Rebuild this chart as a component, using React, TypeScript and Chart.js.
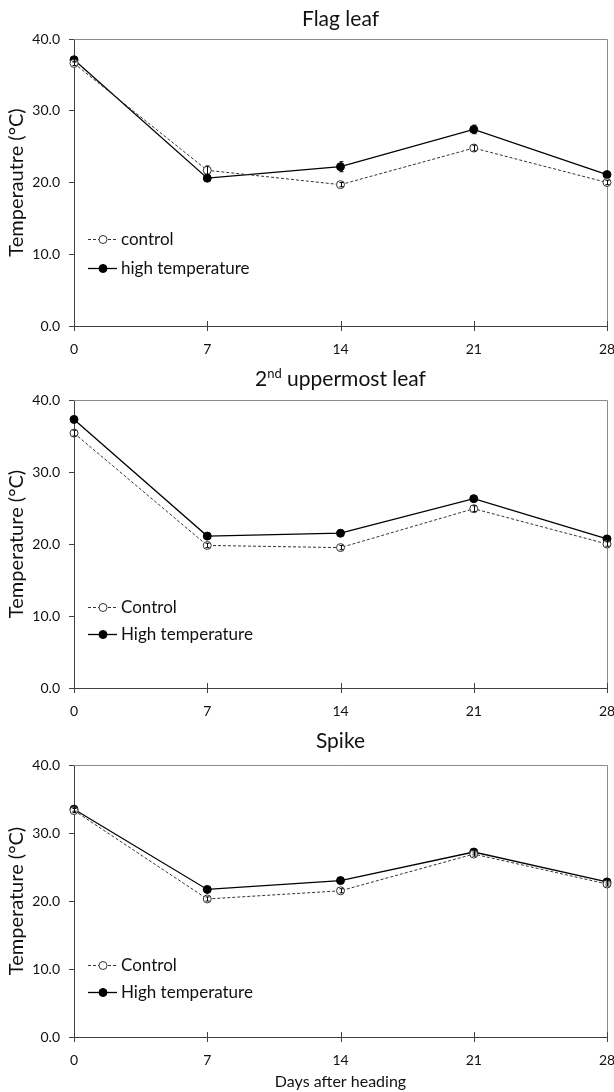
import React, { useEffect, useRef } from "react";
import { Chart, registerables } from "chart.js";

Chart.register(...registerables);

// Sampling days after heading
const days = [0, 7, 14, 21, 28];
const yTicks = [0, 10, 20, 30, 40];

// Flag leaf temperature (°C)
const flagControl = [36.6, 21.7, 19.7, 24.8, 20.0];
const flagControlErr = [0.3, 0.6, 0.3, 0.4, 0.3];
const flagHigh = [37.1, 20.6, 22.2, 27.4, 21.1];
const flagHighErr = [0.3, 0.3, 0.7, 0.6, 0.3];

// 2nd uppermost leaf temperature (°C)
const secondControl = [35.4, 19.8, 19.5, 24.9, 20.0];
const secondControlErr = [0.4, 0.3, 0.3, 0.4, 0.3];
const secondHigh = [37.3, 21.1, 21.5, 26.3, 20.7];
const secondHighErr = [0.3, 0.3, 0.3, 0.3, 0.3];

// Spike temperature (°C)
const spikeControl = [33.3, 20.3, 21.5, 26.9, 22.5];
const spikeControlErr = [0.3, 0.3, 0.3, 0.3, 0.3];
const spikeHigh = [33.5, 21.7, 23.0, 27.2, 22.8];
const spikeHighErr = [0.3, 0.3, 0.3, 0.3, 0.3];

const FONT = "Lato, 'Open Sans', sans-serif";
const CANVAS_W = 640;
const PLOT_LEFT = 74;
const PLOT_RIGHT = 607;

type Panel = {
  title: string;
  titleSup?: string;
  titleRest?: string;
  yTitle: string;
  legend: [string, string];
  control: number[];
  controlErr: number[];
  high: number[];
  highErr: number[];
  top: number;
  plotTop: number;
  plotBottom: number;
  axisH: number;
  titleY: number;
  legendY: [number, number];
  xTitle?: string;
};

const panels: Panel[] = [
  {
    title: "Flag leaf",
    yTitle: "Temperautre (°C)",
    legend: ["control", "high temperature"],
    control: flagControl,
    controlErr: flagControlErr,
    high: flagHigh,
    highErr: flagHighErr,
    top: 0,
    plotTop: 39,
    plotBottom: 326,
    axisH: 36,
    titleY: 19,
    legendY: [239, 268],
  },
  {
    title: "2",
    titleSup: "nd",
    titleRest: " uppermost leaf",
    yTitle: "Temperature (°C)",
    legend: ["Control", "High temperature"],
    control: secondControl,
    controlErr: secondControlErr,
    high: secondHigh,
    highErr: secondHighErr,
    top: 362,
    plotTop: 400,
    plotBottom: 688,
    axisH: 36,
    titleY: 379,
    legendY: [607, 634],
  },
  {
    title: "Spike",
    yTitle: "Temperature (°C)",
    legend: ["Control", "High temperature"],
    control: spikeControl,
    controlErr: spikeControlErr,
    high: spikeHigh,
    highErr: spikeHighErr,
    top: 724,
    plotTop: 765,
    plotBottom: 1037,
    axisH: 55,
    titleY: 741,
    legendY: [965, 992],
    xTitle: "Days after heading",
  },
];

function makeChart(canvas: HTMLCanvasElement, p: Panel) {
  const height = p.plotBottom - p.top + p.axisH;
  canvas.width = CANVAS_W;
  canvas.height = height;

  const errs = [p.controlErr, p.highErr];

  const decorations = {
    id: "panelDecorations",
    beforeDatasetsDraw(chart: any) {
      const { ctx, chartArea } = chart;
      ctx.save();
      // plot area frame (top and right sides)
      ctx.strokeStyle = "#8a8a8a";
      ctx.lineWidth = 1;
      ctx.beginPath();
      ctx.moveTo(chartArea.left, chartArea.top + 0.5);
      ctx.lineTo(chartArea.right + 0.5, chartArea.top + 0.5);
      ctx.lineTo(chartArea.right + 0.5, chartArea.bottom);
      ctx.stroke();
      // x tick marks crossing the axis
      const xs = chart.scales.x;
      ctx.strokeStyle = "#404040";
      ctx.beginPath();
      for (const d of days) {
        const x = Math.round(xs.getPixelForValue(d)) + 0.5;
        ctx.moveTo(x, chartArea.bottom - 5);
        ctx.lineTo(x, chartArea.bottom + 5);
      }
      ctx.stroke();
      ctx.restore();
    },
    afterDatasetsDraw(chart: any) {
      const { ctx } = chart;
      const xs = chart.scales.x;
      const ys = chart.scales.y;
      ctx.save();
      ctx.strokeStyle = "#000";
      ctx.lineWidth = 1;
      chart.data.datasets.forEach((ds: any, i: number) => {
        ds.data.forEach((pt: any, j: number) => {
          const v = pt.y;
          const e = errs[i][j];
          const x = Math.round(xs.getPixelForValue(days[j])) + 0.5;
          const y1 = ys.getPixelForValue(v - e);
          const y2 = ys.getPixelForValue(v + e);
          ctx.beginPath();
          ctx.moveTo(x, y1);
          ctx.lineTo(x, y2);
          ctx.moveTo(x - 2, y1);
          ctx.lineTo(x + 2, y1);
          ctx.moveTo(x - 2, y2);
          ctx.lineTo(x + 2, y2);
          ctx.stroke();
        });
      });
      ctx.restore();
    },
    afterDraw(chart: any) {
      const { ctx, chartArea } = chart;
      ctx.save();
      ctx.fillStyle = "#111";
      ctx.textBaseline = "middle";
      const cx = (chartArea.left + chartArea.right) / 2;
      const ty = p.titleY - p.top;
      // panel title
      ctx.font = `21px ${FONT}`;
      if (p.titleSup) {
        const w1 = ctx.measureText(p.title).width;
        ctx.font = `13px ${FONT}`;
        const w2 = ctx.measureText(p.titleSup).width;
        ctx.font = `21px ${FONT}`;
        const w3 = ctx.measureText(p.titleRest || "").width;
        let x = cx - (w1 + w2 + w3) / 2;
        ctx.textAlign = "left";
        ctx.fillText(p.title, x, ty);
        x += w1;
        ctx.font = `13px ${FONT}`;
        ctx.fillText(p.titleSup, x, ty - 5);
        x += w2;
        ctx.font = `21px ${FONT}`;
        ctx.fillText(p.titleRest || "", x, ty);
      } else {
        ctx.textAlign = "center";
        ctx.fillText(p.title, cx, ty);
      }
      // y axis title
      ctx.save();
      ctx.font = `20px ${FONT}`;
      ctx.translate(17, (chartArea.top + chartArea.bottom) / 2);
      ctx.rotate(-Math.PI / 2);
      ctx.textAlign = "center";
      ctx.fillText(p.yTitle, 0, 0);
      ctx.restore();
      // x axis title
      if (p.xTitle) {
        ctx.font = `16px ${FONT}`;
        ctx.textAlign = "center";
        ctx.fillText(p.xTitle, cx, 1082 - p.top);
      }
      // legend
      ctx.font = `17px ${FONT}`;
      ctx.textAlign = "left";
      chart.data.datasets.forEach((ds: any, i: number) => {
        const y = Math.round(p.legendY[i] - p.top) + 0.5;
        ctx.save();
        ctx.strokeStyle = ds.borderColor;
        ctx.lineWidth = ds.borderWidth;
        ctx.setLineDash(ds.borderDash || []);
        ctx.beginPath();
        ctx.moveTo(88, y);
        ctx.lineTo(117, y);
        ctx.stroke();
        ctx.setLineDash([]);
        ctx.beginPath();
        ctx.arc(103, y, 4, 0, Math.PI * 2);
        ctx.fillStyle = ds.pointBackgroundColor;
        ctx.fill();
        ctx.strokeStyle = ds.pointBorderColor;
        ctx.lineWidth = 1;
        ctx.stroke();
        ctx.restore();
        ctx.fillText(p.legend[i], 121, y);
      });
      ctx.restore();
    },
  };

  return new Chart(canvas, {
    type: "line",
    data: {
      datasets: [
        {
          label: p.legend[0],
          data: p.control.map((v, i) => ({ x: days[i], y: v })) as any,
          borderColor: "#333",
          borderWidth: 1,
          borderDash: [3, 2],
          pointRadius: 4,
          pointBackgroundColor: "#fff",
          pointBorderColor: "#333",
          pointBorderWidth: 1,
          clip: false as any,
        },
        {
          label: p.legend[1],
          data: p.high.map((v, i) => ({ x: days[i], y: v })) as any,
          borderColor: "#000",
          borderWidth: 1.3,
          pointRadius: 4,
          pointBackgroundColor: "#000",
          pointBorderColor: "#000",
          pointBorderWidth: 1,
          clip: false as any,
        },
      ],
    },
    options: {
      responsive: false,
      animation: false,
      devicePixelRatio: 1,
      layout: {
        padding: {
          top: p.plotTop - p.top,
          left: 0,
          right: CANVAS_W - PLOT_RIGHT,
          bottom: 0,
        },
      },
      plugins: {
        legend: { display: false },
        title: { display: false },
        tooltip: { enabled: false },
      },
      scales: {
        x: {
          type: "linear",
          min: 0,
          max: 28,
          afterBuildTicks(scale: any) {
            scale.ticks = days.map((d) => ({ value: d }));
          },
          afterFit(scale: any) {
            scale.height = p.axisH;
          },
          grid: { display: false },
          border: { display: true, color: "#404040", width: 1 },
          ticks: {
            color: "#111",
            padding: 7,
            maxRotation: 0,
            font: { family: FONT, size: 14 },
            callback: (v: any) => String(v),
          },
        },
        y: {
          type: "linear",
          min: 0,
          max: 40,
          afterBuildTicks(scale: any) {
            scale.ticks = yTicks.map((t) => ({ value: t }));
          },
          afterFit(scale: any) {
            scale.width = PLOT_LEFT;
          },
          grid: {
            display: true,
            drawOnChartArea: false,
            drawTicks: true,
            tickLength: 5,
            color: "#404040",
          },
          border: { display: true, color: "#404040", width: 1 },
          ticks: {
            color: "#111",
            padding: 9,
            font: { family: FONT, size: 14 },
            callback: (v: any) => Number(v).toFixed(1),
          },
        },
      },
    },
    plugins: [decorations],
  });
}

function PanelChart({ p }: { p: Panel }) {
  const ref = useRef<HTMLCanvasElement | null>(null);
  useEffect(() => {
    if (!ref.current) return;
    const chart = makeChart(ref.current, p);
    return () => chart.destroy();
  }, [p]);
  const height = p.plotBottom - p.top + p.axisH;
  return (
    <canvas
      ref={ref}
      style={{
        position: "absolute",
        left: 0,
        top: p.top,
        width: CANVAS_W,
        height,
        display: "block",
      }}
    />
  );
}

export default function App() {
  return (
    <div
      style={{
        position: "absolute",
        left: 0,
        top: 0,
        width: 614,
        height: 1092,
        overflow: "hidden",
        background: "#fff",
      }}
    >
      {panels.map((p, i) => (
        <PanelChart key={i} p={p} />
      ))}
    </div>
  );
}
